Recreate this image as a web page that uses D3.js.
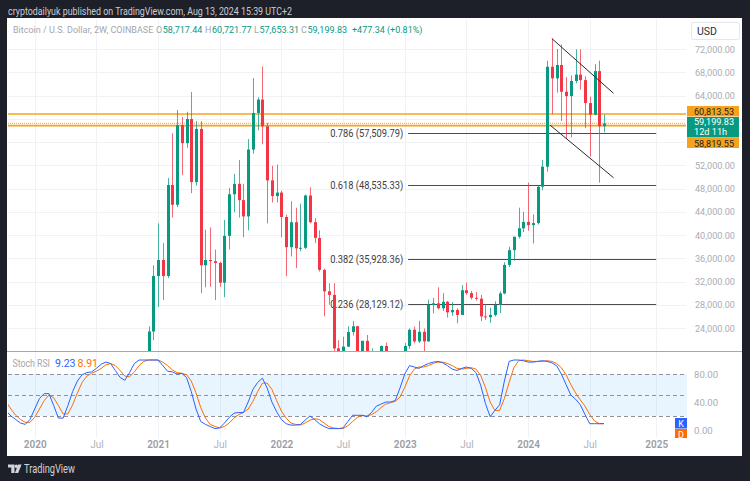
<!DOCTYPE html>
<html><head><meta charset="utf-8">
<script src="https://cdn.jsdelivr.net/npm/d3@7"></script>
<style>
body{margin:0;background:#1e2029;}
svg{display:block;font-family:Roboto,"Noto Sans",sans-serif;}
</style></head><body>
<svg id="c" width="750" height="481"></svg>
<script>
// ---------- DATA ----------
const barDates = [
"2019-10-14","2019-10-28","2019-11-11","2019-11-25","2019-12-09","2019-12-23",
"2020-01-06","2020-01-20","2020-02-03","2020-02-17","2020-03-02","2020-03-16","2020-03-30","2020-04-13","2020-04-27","2020-05-11","2020-05-25","2020-06-08","2020-06-22","2020-07-06","2020-07-20","2020-08-03","2020-08-17","2020-08-31","2020-09-14","2020-09-28","2020-10-12","2020-10-26","2020-11-09","2020-11-23","2020-12-07","2020-12-21",
"2021-01-04","2021-01-18","2021-02-01","2021-02-15","2021-03-01","2021-03-15","2021-03-29","2021-04-12","2021-04-26","2021-05-10","2021-05-24","2021-06-07","2021-06-21","2021-07-05","2021-07-19","2021-08-02","2021-08-16","2021-08-30","2021-09-13","2021-09-27","2021-10-11","2021-10-25","2021-11-08","2021-11-22","2021-12-06","2021-12-20",
"2022-01-03","2022-01-17","2022-01-31","2022-02-14","2022-02-28","2022-03-14","2022-03-28","2022-04-11","2022-04-25","2022-05-09","2022-05-23","2022-06-06","2022-06-20","2022-07-04","2022-07-18","2022-08-01","2022-08-15","2022-08-29","2022-09-12","2022-09-26","2022-10-10","2022-10-24","2022-11-07","2022-11-21","2022-12-05","2022-12-19",
"2023-01-02","2023-01-16","2023-01-30","2023-02-13","2023-02-27","2023-03-13","2023-03-27","2023-04-10","2023-04-24","2023-05-08","2023-05-22","2023-06-05","2023-06-19","2023-07-03","2023-07-17","2023-07-31","2023-08-14","2023-08-28","2023-09-11","2023-09-25","2023-10-09","2023-10-23","2023-11-06","2023-11-20","2023-12-04","2023-12-18",
"2024-01-01","2024-01-15","2024-01-29","2024-02-12","2024-02-26","2024-03-11","2024-03-25","2024-04-08","2024-04-22","2024-05-06","2024-05-20","2024-06-03","2024-06-17","2024-07-01","2024-07-15","2024-07-29","2024-08-12"];

const candleStart = "2020-12-07";
const candleOpen = [19150,23400,32950,35700,32950,48600,45200,58900,55800,59950,49100,58250,34800,35700,35500,35200,31800,39850,47000,48800,46000,43200,54700,61000,63300,58700,49400,46700,
47300,43100,37900,42200,37700,37800,46800,42200,39500,34000,30300,29700,20500,19300,20800,23300,24300,19550,21800,18800,19400,19600,20900,16300,17100,16700,
16600,20900,23700,21700,23350,21700,27950,28250,27400,28500,26700,27100,26250,30500,30000,29200,29050,26000,25850,26250,27950,29950,34850,37400,39700,41150,
42250,41700,42050,48300,51750,68950,66950,69250,64650,63900,66500,67600,66650,62700,60700,68200,58717.44];
const candleHigh = [24300,34800,42000,38600,49800,57500,61500,60300,61200,64600,59600,59600,40900,41300,37500,35400,42600,48100,50500,52900,48800,56500,67000,63700,69000,59300,51900,52100,
47600,43500,45800,44700,45400,46950,48200,42900,40800,34200,31700,31700,21900,22500,24300,25200,24400,21800,22800,20500,19700,21000,21500,17400,18400,17000,
21400,23900,24250,25250,23900,28900,29200,31000,30000,28650,28450,27400,31400,31800,30400,30200,29700,28100,27500,28600,30300,35300,38000,39700,44700,44000,
49000,43550,48550,52900,70000,73800,72000,72800,67200,67450,71950,71950,67300,63800,69400,70000,60721.77];
const candleLow = [17600,21900,27600,28800,32600,43000,44800,50300,55000,47200,48500,30000,31000,31100,28800,31100,29300,37500,43900,43000,39600,40800,54000,58000,55600,42000,45600,45600,
39600,32900,36300,34300,37200,37600,42000,38600,33700,26000,28000,17600,18800,18900,20700,22700,19800,18600,18200,18500,18200,19200,15500,15600,16600,16300,
16500,20400,21400,21400,19600,21600,26500,27200,26950,25800,26100,24800,26250,29700,28900,28700,25200,25400,24900,26000,26550,29800,34500,35600,39400,40500,
40750,38550,41800,47700,50900,60800,64500,59600,56500,56800,66100,65000,58400,53500,60600,49000,57653.31];
const candleClose = [23400,32950,35700,32950,48600,45200,58900,55800,59950,49100,58250,34800,35700,35500,35200,31800,39850,47000,48800,46000,43200,54700,61000,63300,58700,49400,46700,47300,
43100,37900,42200,37700,37800,46800,42200,39500,34000,30300,29700,20500,19300,20800,23300,24300,19550,21800,18800,19400,19600,20900,16300,17100,16700,16600,
20900,23700,21700,23350,21700,27950,28250,27400,28500,26700,27100,26250,30500,30000,29200,29050,26000,25850,26250,27950,29950,34850,37400,39700,41150,42250,
41700,42050,48300,51750,68950,66950,69250,64650,63900,66500,67600,66650,62700,60700,68200,58717.44,59199.83];

const stochK = [27,20,15,10,8,15,30,45,52,52,35,17,17,35,55,70,79,82,83,88,94,97,95,85,75,71,82,95,100,100,
100,100,100,92,84,83,80,81,75,55,30,12,8,5,2,3,10,18,24,25,25,40,58,68,74,60,40,26,15,9,
7,7,8,14,20,15,9,5,2,2,2,3,12,21,21,21,19,25,34,37,40,40,42,60,80,92,90,88,92,95,
97,98,96,92,87,85,88,90,88,82,64,38,19,28,36,70,98,100,100,99,97,97,98,99,98,96,92,80,65,50,
44,36,22,9,9,9,9.23];
const stochD = [40,30,21,15,11,11,18,30,42,50,46,35,23,23,36,53,68,77,81,84,88,93,95,92,85,77,76,83,92,98,
100,100,100,97,92,86,82,81,79,70,53,32,17,8,5,3,5,10,17,22,25,30,41,55,67,67,58,42,27,17,
10,8,7,10,14,16,15,10,5,3,2,2,6,12,18,21,20,22,26,32,37,39,41,47,61,77,87,90,90,92,
95,97,97,95,92,88,87,88,89,87,78,61,40,28,28,45,68,89,99,100,99,98,98,98,99,98,95,89,79,65,
53,43,34,22,13,9,8.91];

const priceGridTicks = [24000,28000,32000,36000,40000,44000,48000,52000,56000,60000,64000,68000,72000];
const priceLabelTicks = [24000,28000,32000,36000,40000,44000,48000,52000,64000,68000,72000];
const stochTicks = [0,40,80];
const stochLevels = [20,50,80];
const xTickDates = ["2020-01-06","2020-07-06","2021-01-04","2021-07-05","2022-01-03","2022-07-04","2023-01-02","2023-07-03","2024-01-01","2024-07-01","2025-01-13"];
const xTickLabels = ["2020","Jul","2021","Jul","2022","Jul","2023","Jul","2024","Jul","2025"];

const fibRatios = ["0.786","0.618","0.382","0.236"];
const fibPrices = [57509.79,48535.33,35928.36,28129.12];
const fibSpan = ["2023-01-12","2025-01-13"];

const resistance = 60813.53, support = 58819.55, lastPrice = 59199.83;
const channelUpper = [["2024-03-11",73800],["2024-09-09",64380]];
const channelLower = [["2024-03-06",58900],["2024-09-09",49860]];

const legendKeys = ["O","H","L","C"];
const legendVals = ["58,717.44","60,721.77","57,653.31","59,199.83"];
const legendChange = "+477.34 (+0.81%)";
const stochLast = ["9.23","8.91"];

// ---------- SETUP ----------
const parse = d3.utcParse("%Y-%m-%d");
const svg = d3.select("#c");
const GREEN="#089981", RED="#f23645", ORANGE="#f7a21b", BLUE="#2962ff", DORANGE="#ff6d00";

svg.append("rect").attr("width",750).attr("height",481).attr("fill","#1e2029");
svg.append("rect").attr("x",7).attr("y",18).attr("width",735).attr("height",438).attr("fill","#ffffff");

const x = d3.scaleTime().domain([parse("2020-01-06"),parse("2025-01-13")]).range([34.7,656.2]);
const y = d3.scaleLinear().domain([24000,72000]).range([328,49]);
const ys = d3.scaleLinear().domain([0,100]).range([430,360]);

const defs = svg.append("defs");
defs.append("clipPath").attr("id","pc").append("rect").attr("x",8).attr("y",19).attr("width",678).attr("height",332);
defs.append("clipPath").attr("id","sc").append("rect").attr("x",8).attr("y",352).attr("width",679).attr("height",86);

// header
svg.append("text").attr("x",8).attr("y",15).attr("fill","#c9ccd3").attr("font-size",10)
  .attr("textLength",284).attr("lengthAdjust","spacingAndGlyphs")
  .text("cryptodailyuk published on TradingView.com, Aug 13, 2024 15:39 UTC+2");

// grid
const grid = svg.append("g").attr("stroke","#f1f2f5").attr("stroke-width",1);
xTickDates.forEach(d=>{
  const xx = Math.round(x(parse(d)))+0.5;
  if (xx<686){
    grid.append("line").attr("x1",xx).attr("x2",xx).attr("y1",19).attr("y2",351);
    grid.append("line").attr("x1",xx).attr("x2",xx).attr("y1",352).attr("y2",438);
  }
});
priceGridTicks.forEach(p=>{
  const yy = Math.round(y(p))+0.5;
  grid.append("line").attr("x1",8).attr("x2",686).attr("y1",yy).attr("y2",yy);
});

// ---------- PRICE PANE ----------
const pg = svg.append("g").attr("clip-path","url(#pc)");
const startIdx = barDates.indexOf(candleStart);
const candles = candleOpen.map((o,i)=>({d:parse(barDates[startIdx+i]),o,h:candleHigh[i],l:candleLow[i],c:candleClose[i]}));

// horizontal lines
pg.append("line").attr("x1",8).attr("x2",686).attr("y1",y(resistance)).attr("y2",y(resistance))
  .attr("stroke",ORANGE).attr("stroke-width",1.6);
pg.append("line").attr("x1",8).attr("x2",686).attr("y1",y(support)).attr("y2",y(support))
  .attr("stroke",ORANGE).attr("stroke-width",1.6);
pg.append("line").attr("x1",8).attr("x2",686).attr("y1",y(lastPrice)).attr("y2",y(lastPrice))
  .attr("stroke","#f5b95e").attr("stroke-width",1.2).attr("stroke-dasharray","1,1");

// fib lines
fibPrices.forEach((p,i)=>{
  const yy = Math.round(y(p))+0.5;
  pg.append("line").attr("x1",x(parse(fibSpan[0]))).attr("x2",x(parse(fibSpan[1])))
    .attr("y1",yy).attr("y2",yy).attr("stroke","#4a4c52").attr("stroke-width",1);
  pg.append("text").attr("x",x(parse(fibSpan[0]))-5).attr("y",yy+3.5).attr("text-anchor","end")
    .attr("font-size",10).attr("fill","#3c3e44").attr("textLength",73).attr("lengthAdjust","spacingAndGlyphs")
    .text(`${fibRatios[i]} (${d3.format(",.2f")(p)})`);
});

// candles
const cg = pg.append("g");
candles.forEach(k=>{
  const cx = Math.round(x(k.d));
  const col = k.c>=k.o ? GREEN : RED;
  cg.append("line").attr("x1",cx+0.5).attr("x2",cx+0.5).attr("y1",y(k.h)).attr("y2",y(k.l))
    .attr("stroke",col).attr("stroke-width",1).attr("stroke-opacity",0.75);
  const top = y(Math.max(k.o,k.c)), bot = y(Math.min(k.o,k.c));
  cg.append("rect").attr("x",cx-1).attr("y",top).attr("width",3).attr("height",Math.max(1,bot-top)).attr("fill",col);
});

// channel
[channelUpper,channelLower].forEach(ch=>{
  pg.append("line").attr("x1",x(parse(ch[0][0]))).attr("y1",y(ch[0][1]))
    .attr("x2",x(parse(ch[1][0]))).attr("y2",y(ch[1][1]))
    .attr("stroke","#2a2b30").attr("stroke-width",1);
});

// legend (natural widths, laid out left to right without overlap)
const lg = svg.append("g").attr("font-size",9);
let cursor = 0;
function put(txt, refX, col, gapAfter){
  const t = lg.append("text").attr("x",Math.max(refX,cursor)).attr("y",33.3).attr("fill",col).text(txt);
  const x0 = +t.attr("x");
  cursor = x0 + t.node().getComputedTextLength() + gapAfter;
}
put("Bitcoin / U.S. Dollar, 2W, COINBASE",13,"#a3a6ae",1.5);
const lx = [156,205,254,301];
legendKeys.forEach((k,i)=>{
  put(k,lx[i],"#a3a6ae",0.6);
  put(legendVals[i],0,GREEN,1.5);
});
put(legendChange,352,GREEN,0);

// USD box
svg.append("rect").attr("x",691.5).attr("y",22.5).attr("width",48).attr("height",17).attr("fill","#fff")
  .attr("stroke","#e6e7ea").attr("rx",2);
svg.append("text").attr("x",697).attr("y",35).attr("font-size",10.5).attr("fill","#2a2e39").text("USD");

// price axis
const pa = svg.append("g").attr("transform","translate(686,0)")
  .call(d3.axisRight(y).tickValues(priceLabelTicks).tickSize(0).tickPadding(9).tickFormat(d3.format(",.2f")));
pa.select(".domain").remove();
pa.selectAll("text").attr("font-size",9.6).attr("fill","#a9acb4").attr("font-family","Roboto,sans-serif")
  .attr("textLength",40).attr("lengthAdjust","spacingAndGlyphs");

// price boxes
function box(yTop,h,fill){ svg.append("rect").attr("x",687).attr("y",yTop).attr("width",52).attr("height",h).attr("fill",fill); }
box(106,10.5,ORANGE);
box(117,20.5,GREEN);
box(138,10,ORANGE);
function btxt(t,yy,col){ svg.append("text").attr("x",694).attr("y",yy).attr("font-size",9.2).attr("fill",col)
  .attr("textLength",40).attr("lengthAdjust","spacingAndGlyphs").text(t); }
btxt(d3.format(",.2f")(resistance),114.5,"#1d1f24");
btxt(d3.format(",.2f")(lastPrice),125.3,"#ffffff");
svg.append("text").attr("x",694).attr("y",135.2).attr("font-size",9.2).attr("fill","#ffffff").text("12d 11h");
btxt(d3.format(",.2f")(support),146.5,"#1d1f24");

// separator
svg.append("line").attr("x1",7).attr("x2",742).attr("y1",351.5).attr("y2",351.5).attr("stroke","#a4a7ae").attr("stroke-width",1);

// ---------- STOCH PANE ----------
const sg = svg.append("g").attr("clip-path","url(#sc)");
sg.append("rect").attr("x",8).attr("y",ys(80)).attr("width",679).attr("height",ys(20)-ys(80)).attr("fill","rgba(33,150,243,0.1)");
stochLevels.forEach(v=>{
  sg.append("line").attr("x1",8).attr("x2",684).attr("y1",Math.round(ys(v))+0.5).attr("y2",Math.round(ys(v))+0.5)
    .attr("stroke","#8f929a").attr("stroke-dasharray","4,3").attr("stroke-width",1);
});
const dates = barDates.map(parse);
const line = d3.line().x((d,i)=>x(dates[i])).y(d=>ys(d));
sg.append("path").datum(stochD).attr("d",line).attr("fill","none").attr("stroke",DORANGE).attr("stroke-width",1);
sg.append("path").datum(stochK).attr("d",line).attr("fill","none").attr("stroke",BLUE).attr("stroke-width",1);

// K / D boxes
sg.append("rect").attr("x",675).attr("y",418).attr("width",12).attr("height",10.5).attr("fill",BLUE);
sg.append("text").attr("x",681).attr("y",426.5).attr("text-anchor","middle").attr("font-size",9).attr("fill","#fff").text("K");
sg.append("rect").attr("x",675).attr("y",429).attr("width",12).attr("height",10.5).attr("fill",DORANGE);
sg.append("text").attr("x",681).attr("y",437.5).attr("text-anchor","middle").attr("font-size",9).attr("fill","#fff").text("D");

// stoch legend
const sl = svg.append("g").attr("font-size",10);
sl.append("text").attr("x",12.5).attr("y",366.5).attr("fill","#a3a6ae").attr("textLength",37.5).attr("lengthAdjust","spacingAndGlyphs").text("Stoch RSI");
sl.append("text").attr("x",55).attr("y",366.5).attr("fill",BLUE).attr("font-size",10.5).text(stochLast[0]);
sl.append("text").attr("x",77.5).attr("y",366.5).attr("fill",DORANGE).attr("font-size",10.5).text(stochLast[1]);

// stoch axis
const sa = svg.append("g").attr("transform","translate(686,0)")
  .call(d3.axisRight(ys).tickValues(stochTicks).tickSize(0).tickPadding(8).tickFormat(d3.format(".2f")));
sa.select(".domain").remove();
sa.selectAll("text").attr("font-size",9.6).attr("fill","#a9acb4").attr("font-family","Roboto,sans-serif");

// ---------- TIME AXIS ----------
const xa = svg.append("g").attr("transform","translate(0,441)")
  .call(d3.axisBottom(x).tickValues(xTickDates.map(parse)).tickSize(0).tickPadding(0).tickFormat((d,i)=>xTickLabels[i]));
xa.select(".domain").remove();
xa.selectAll("text").attr("font-family","Roboto,sans-serif").attr("font-size",10)
  .attr("fill",(d,i)=>xTickLabels[i]==="Jul" ? "#b0b3ba" : "#9a9da5")
  .attr("font-weight",(d,i)=>xTickLabels[i]==="Jul" ? 400 : 600);

// ---------- FOOTER ----------
const fg = svg.append("g").attr("fill","#d1d4dc");
fg.append("path").attr("d","M8,464.5 h6.5 v8.5 h-3.2 v-5.5 h-3.3 z");
fg.append("circle").attr("cx",16.3).attr("cy",466.2).attr("r",1.7);
fg.append("path").attr("d","M18.2,464.5 h3.4 l-3.4,8.5 h-3.3 z");
fg.append("text").attr("x",24).attr("y",473).attr("font-size",12).attr("textLength",51).attr("lengthAdjust","spacingAndGlyphs").text("TradingView");
</script>
</body></html>
